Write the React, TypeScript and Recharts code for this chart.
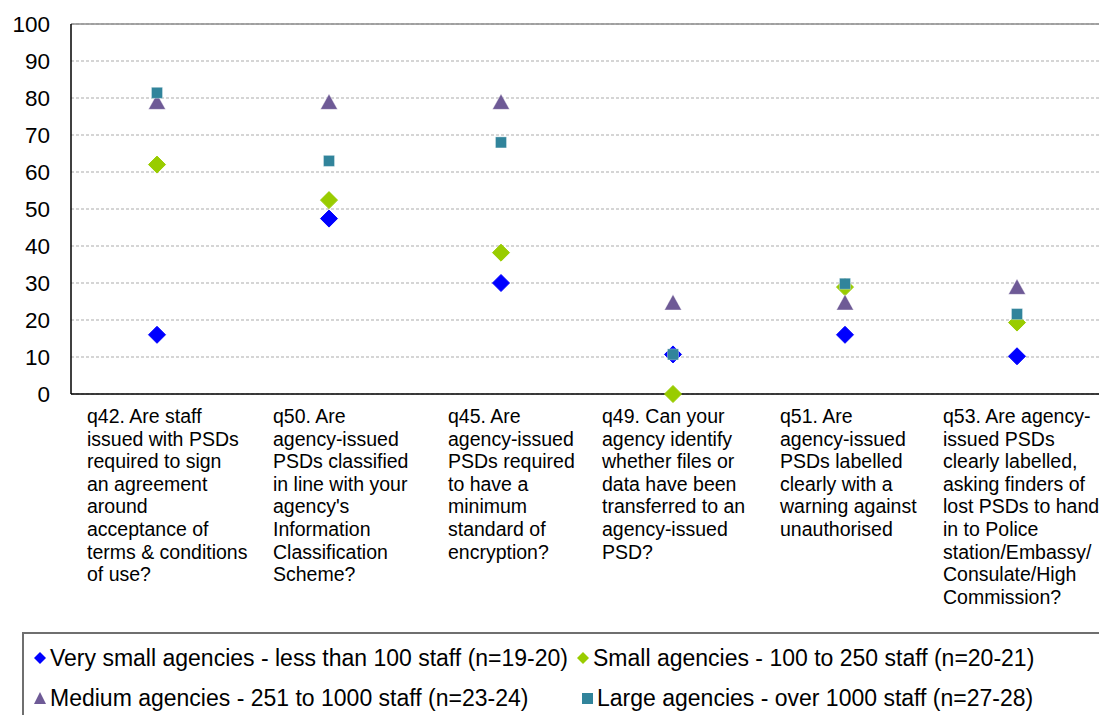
import {
  ComposedChart,
  Scatter,
  XAxis,
  YAxis,
  CartesianGrid,
  ReferenceLine,
  Legend,
} from "recharts";

const CATEGORIES = ["q42", "q50", "q45", "q49", "q51", "q53"];

const CATEGORY_LABELS = [
  ["q42. Are staff", "issued with PSDs", "required to sign", "an agreement", "around", "acceptance of", "terms & conditions", "of use?"],
  ["q50. Are", "agency-issued", "PSDs classified", "in line with your", "agency's", "Information", "Classification", "Scheme?"],
  ["q45. Are", "agency-issued", "PSDs required", "to have a", "minimum", "standard of", "encryption?"],
  ["q49. Can your", "agency identify", "whether files or", "data have been", "transferred to an", "agency-issued", "PSD?"],
  ["q51. Are", "agency-issued", "PSDs labelled", "clearly with a", "warning against", "unauthorised"],
  ["q53. Are agency-", "issued PSDs", "clearly labelled,", "asking finders of", "lost PSDs to hand", "in to Police", "station/Embassy/", "Consulate/High", "Commission?"],
];

const VERY_SMALL = [16, 47.4, 30, 10.7, 16, 10.2];
const SMALL = [62, 52.4, 38.2, 0, 28.9, 19.3];
const MEDIUM = [79, 79, 79, 24.8, 24.8, 29];
const LARGE = [81.4, 63, 68, 10.7, 29.8, 21.6];

const Y_TICKS = [0, 10, 20, 30, 40, 50, 60, 70, 80, 90, 100];

const SERIES = [
  { key: "verySmall", name: "Very small agencies - less than 100 staff (n=19-20)", color: "#0000FF", shape: "diamond" },
  { key: "small", name: "Small agencies - 100 to 250 staff (n=20-21)", color: "#99CC00", shape: "diamond" },
  { key: "medium", name: "Medium agencies - 251 to 1000 staff (n=23-24)", color: "#6E5A96", shape: "triangle" },
  { key: "large", name: "Large agencies - over 1000 staff (n=27-28)", color: "#31849B", shape: "square" },
];

// left offset of each wrapped label block relative to the category centre
const LABEL_DX = [-70, -56, -53, -71, -65, -74];

const data = CATEGORIES.map((cat, i) => ({
  cat,
  verySmall: VERY_SMALL[i],
  small: SMALL[i],
  medium: MEDIUM[i],
  large: LARGE[i],
}));

const FONT = "'Liberation Sans', Arial, sans-serif";

function markerPath(shape: string, cx: number, cy: number, s: number) {
  if (shape === "diamond") {
    return `M${cx},${cy - s}L${cx + s},${cy}L${cx},${cy + s}L${cx - s},${cy}Z`;
  }
  if (shape === "triangle") {
    const h = s * 0.9;
    return `M${cx},${cy - h}L${cx + s},${cy + h}L${cx - s},${cy + h}Z`;
  }
  return `M${cx - s * 0.65},${cy - s * 0.65}h${s * 1.3}v${s * 1.3}h${-s * 1.3}Z`;
}

function makeShape(shape: string, color: string) {
  return (props: any) => {
    const { cx, cy } = props;
    if (cx == null || cy == null) return <g />;
    return (
      <path
        d={markerPath(shape, cx, cy, 8.5)}
        fill={color}
        stroke={shape === "diamond" ? color : "#ffffff"}
        strokeOpacity={shape === "diamond" ? 1 : 0.35}
        strokeWidth={1}
      />
    );
  };
}

function CategoryTick({ x, y, payload }: any) {
  const i = payload.index;
  const lines = CATEGORY_LABELS[i] || [];
  return (
    <text
      x={x + LABEL_DX[i]}
      y={y + 21}
      fontFamily={FONT}
      fontSize={19.5}
      fill="#000"
      textAnchor="start"
    >
      {lines.map((line, k) => (
        <tspan key={k} x={x + LABEL_DX[i]} dy={k === 0 ? 0 : 22.6}>
          {line}
        </tspan>
      ))}
    </text>
  );
}

function LegendMarker({ shape, color }: { shape: string; color: string }) {
  return (
    <svg width={14} height={14} style={{ marginRight: 3, flex: "none" }}>
      {shape === "diamond" && <path d="M7,1L13,7L7,13L1,7Z" fill={color} />}
      {shape === "triangle" && <path d="M7,1L13,13L1,13Z" fill={color} />}
      {shape === "square" && <rect x={2} y={2} width={11} height={11} fill={color} />}
    </svg>
  );
}

function LegendBox() {
  const rows = [
    [SERIES[0], SERIES[1]],
    [SERIES[2], SERIES[3]],
  ];
  return (
    <div
      style={{
        boxSizing: "border-box",
        width: 1200,
        height: 200,
        borderTop: "2px solid #6f6f6f",
        borderLeft: "2px solid #6f6f6f",
        fontFamily: FONT,
        fontSize: 23,
        color: "#000",
        paddingTop: 4,
      }}
    >
      {rows.map((row, r) => (
        <div key={r} style={{ display: "flex", height: 40, alignItems: "center" }}>
          {row.map((s, c) => (
            <div
              key={s.key}
              style={{
                display: "flex",
                alignItems: "center",
                width: c === 0 ? (r === 0 ? 552 : 556) : 500,
                paddingLeft: c === 0 ? 9 : 0,
                boxSizing: "border-box",
                whiteSpace: "nowrap",
              }}
            >
              <LegendMarker shape={s.shape} color={s.color} />
              <span>{s.name}</span>
            </div>
          ))}
        </div>
      ))}
    </div>
  );
}

export default function App() {
  return (
    <div style={{ position: "relative", width: 1099, height: 707, overflow: "hidden" }}>
      <ComposedChart
        width={1099}
        height={707}
        data={data}
        margin={{ top: 16, right: 4, left: 23, bottom: 91 }}
      >
        <CartesianGrid
          vertical={false}
          stroke="#ababab"
          strokeDasharray="3 2"
        />
        <XAxis
          dataKey="cat"
          type="category"
          scale="band"
          height={230}
          axisLine={{ stroke: "#000", strokeWidth: 1.5 }}
          tickLine={false}
          interval={0}
          tick={<CategoryTick />}
        />
        <YAxis
          type="number"
          domain={[0, 100]}
          ticks={Y_TICKS}
          width={40}
          axisLine={{ stroke: "#000", strokeWidth: 1.5 }}
          tickLine={false}
          tickSize={10}
          tickMargin={11}
          tick={{ fontFamily: FONT, fontSize: 22.5, fill: "#000" }}
        />
        <YAxis
          yAxisId="right"
          orientation="right"
          width={0}
          domain={[0, 100]}
          tick={false}
          tickLine={false}
          axisLine={{ stroke: "#8c8c8c", strokeWidth: 1.5 }}
        />
        <ReferenceLine y={100} stroke="#8c8c8c" strokeWidth={1.5} />
        {SERIES.map((s) => (
          <Scatter
            key={s.key}
            name={s.name}
            dataKey={s.key}
            fill={s.color}
            shape={makeShape(s.shape, s.color)}
            isAnimationActive={false}
          />
        ))}
        <Legend
          layout="horizontal"
          verticalAlign="middle"
          align="center"
          wrapperStyle={{ left: 14, top: 624, width: 1200, height: 200 }}
          content={() => <LegendBox />}
        />
      </ComposedChart>
    </div>
  );
}
